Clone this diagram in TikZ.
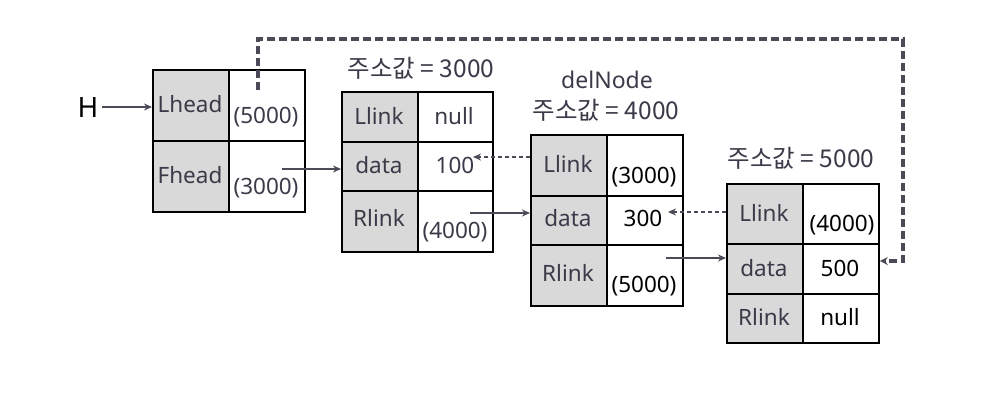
\documentclass[tikz,border=0pt]{standalone}
\usepackage{fontspec}
\setmainfont{Noto Sans}
\newfontfamily\krfont{Noto Sans CJK KR}
\usetikzlibrary{arrows.meta}
\definecolor{txtgray}{HTML}{3A3A48}
\definecolor{linegray}{HTML}{4B4B57}
\definecolor{cellgray}{HTML}{D9D9D9}
\tikzset{
  keycell/.style={draw=black, line width=1.8pt, fill=cellgray, inner sep=0pt},
  valcell/.style={draw=black, line width=1.8pt, fill=white, inner sep=0pt},
  celltext/.style={font=\fontsize{22.5}{26}\selectfont, text=txtgray, inner sep=0pt},
  valtext/.style={font=\fontsize{22.5}{26}\selectfont, text=black, inner sep=0pt},
  addr/.style={font=\krfont\fontsize{24.5}{28}\selectfont, text=txtgray, inner sep=0pt},
  ptr/.style={draw=linegray, line width=1.7pt, -{Stealth[length=8pt,width=7pt]}},
  dptr/.style={ptr, dash pattern=on 4.5pt off 2.5pt},
  bigdash/.style={draw=linegray, line width=3.2pt, dash pattern=on 8pt off 4pt,
    -{Stealth[length=8pt,width=8pt]}}
}
% \cellbox{name}{style}{x1}{y1}{x2}{y2}
\newcommand{\cellbox}[6]{%
  \node[#2, anchor=north west, minimum width={#5-#3}, minimum height={#6-#4}] (#1) at (#3,#4) {};}
\begin{document}
\begin{tikzpicture}[x=1pt,y=-1pt]
\useasboundingbox[fill=white] (0,0) rectangle (999,408);

% head node
\cellbox{hLk}{keycell}{152}{69}{228}{140}
\cellbox{hLv}{valcell}{228}{69}{304}{140}
\cellbox{hFk}{keycell}{152}{140}{228}{211}
\cellbox{hFv}{valcell}{228}{140}{304}{211}
\node[celltext] (tLhead) at (190,104) {Lhead};
\node[celltext] (tLv) at (266,117) {(5000)};
\node[celltext] (tFhead) at (190,175) {Fhead};
\node[celltext] (tFv) at (266,188) {(3000)};
\node[font=\fontsize{28}{32}\selectfont, inner sep=0pt] (H) at (88,107) {H};

% node at 3000
\node[addr] (lab3) at (421,68) {주소값 = 3000};
\cellbox{aLk}{keycell}{341}{91}{417}{141}
\cellbox{aLv}{valcell}{417}{91}{492}{141}
\cellbox{aDk}{keycell}{341}{141}{417}{190}
\cellbox{aDv}{valcell}{417}{141}{492}{190}
\cellbox{aRk}{keycell}{341}{190}{417}{251}
\cellbox{aRv}{valcell}{417}{190}{492}{251}
\node[celltext] at (379,116) {Llink};
\node[celltext] at (454,116) {null};
\node[celltext] at (379,165) {data};
\node[celltext] (a100) at (455,165) {100};
\node[celltext] at (379,218) {Rlink};
\node[celltext] at (455,232) {(4000)};

% node at 4000
\node[celltext, font=\fontsize{23}{26}\selectfont] (del) at (607,80) {delNode};
\node[addr] (lab4) at (606,110) {주소값 = 4000};
\cellbox{bLk}{keycell}{530}{134}{606}{195}
\cellbox{bLv}{valcell}{606}{134}{682}{195}
\cellbox{bDk}{keycell}{530}{195}{606}{244}
\cellbox{bDv}{valcell}{606}{195}{682}{244}
\cellbox{bRk}{keycell}{530}{244}{606}{305}
\cellbox{bRv}{valcell}{606}{244}{682}{305}
\node[celltext] at (568,164) {Llink};
\node[valtext] at (644,177) {(3000)};
\node[celltext] at (568,218) {data};
\node[valtext] (b300) at (643,218) {300};
\node[celltext] at (568,273) {Rlink};
\node[valtext] at (644,286) {(5000)};

% node at 5000
\node[addr] (lab5) at (801,158) {주소값 = 5000};
\cellbox{cLk}{keycell}{726}{183}{802}{243}
\cellbox{cLv}{valcell}{802}{183}{878}{243}
\cellbox{cDk}{keycell}{726}{243}{802}{293}
\cellbox{cDv}{valcell}{802}{243}{878}{293}
\cellbox{cRk}{keycell}{726}{293}{802}{342}
\cellbox{cRv}{valcell}{802}{293}{878}{342}
\node[celltext] at (764,213) {Llink};
\node[valtext] at (842,225) {(4000)};
\node[celltext] at (764,268) {data};
\node[valtext] (c500) at (840,268) {500};
\node[celltext] at (764,317) {Rlink};
\node[valtext] at (840,317) {null};

% pointer origins inside the value cells
\coordinate (pF) at (282,169);
\coordinate (pAR) at (470,213);
\coordinate (pBR) at (666,258);
\coordinate (pL) at (258,90);
\coordinate (bendA) at (258,39);
\coordinate (bendB) at (903,39);
\coordinate (bendC) at (903,261);

% solid links
\draw[ptr] (H.east) ++(3,0) -- (hLk.west |- H.east);
\draw[ptr] (pF) -- (aDk.west |- pF);
\draw[ptr] (pAR) -- (bDk.west |- pAR);
\draw[ptr] (pBR) -- (cDk.west |- pBR);

% dashed back links
\draw[dptr] (bLk.west |- 0,157) -- (473,157);
\draw[dptr] (cLk.west |- 0,212) -- (668,212);

% dashed link from Lhead to the last node
\draw[bigdash] (pL) -- (bendA) -- (bendB) -- (bendC) -- (cDv.east |- bendC);
\end{tikzpicture}
\end{document}
